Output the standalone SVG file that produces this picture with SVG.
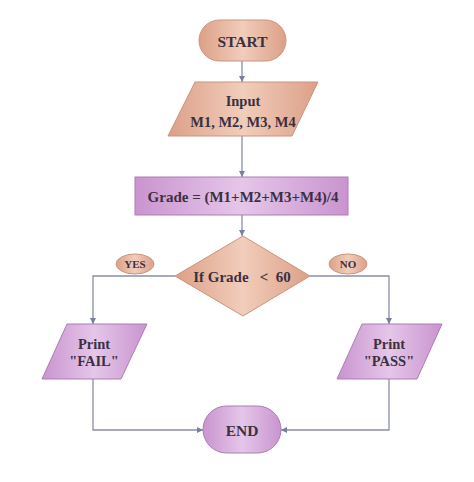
<svg xmlns="http://www.w3.org/2000/svg" width="474" height="482" viewBox="0 0 474 482">
<defs>
<linearGradient id="sal" x1="0" y1="0" x2="1" y2="0">
<stop offset="0" stop-color="#dca087"/>
<stop offset="0.5" stop-color="#f1cdbb"/>
<stop offset="1" stop-color="#dca087"/>
</linearGradient>
<linearGradient id="pur" x1="0" y1="0" x2="1" y2="0">
<stop offset="0" stop-color="#c994cf"/>
<stop offset="0.5" stop-color="#e5c6e9"/>
<stop offset="1" stop-color="#c994cf"/>
</linearGradient>
<marker id="arr" viewBox="0 0 10 10" refX="10" refY="5" markerWidth="6" markerHeight="6" orient="auto" markerUnits="userSpaceOnUse">
<path d="M0,0 L10,5 L0,10 z" fill="#7a7f9c"/>
</marker>
</defs>
<style>
.s{fill:url(#sal);stroke:#c8957f;stroke-width:1}
.p{fill:url(#pur);stroke:#a97fb2;stroke-width:1}
.t{font-family:"Liberation Serif","DejaVu Serif",serif;font-weight:bold;fill:#3b3040;text-anchor:middle}
.c{fill:none;stroke:#8a8ea6;stroke-width:1.3}
</style>
<rect width="474" height="482" fill="#ffffff"/>
<g id="connectors">
<path class="c" d="M242,61 V82" marker-end="url(#arr)"/>
<path class="c" d="M242,136 V177" marker-end="url(#arr)"/>
<path class="c" d="M242,215 V236" marker-end="url(#arr)"/>
<path class="c" d="M175,276 H93 V324" marker-end="url(#arr)"/>
<path class="c" d="M310,276 H389 V324" marker-end="url(#arr)"/>
<path class="c" d="M93,379 V430 H203" marker-end="url(#arr)"/>
<path class="c" d="M389,379 V430 H281" marker-end="url(#arr)"/>
</g>
<g id="start">
<rect class="s" x="199" y="20" width="87" height="41" rx="20.5"/>
<text class="t" x="242.5" y="46.5" font-size="15.5">START</text>
</g>
<g id="input">
<polygon class="s" points="195,82 318,82 292,136 168,136"/>
<text class="t" x="243" y="106" font-size="14.5">Input</text>
<text class="t" x="243" y="127" font-size="14.5">M1, M2, M3, M4</text>
</g>
<g id="grade">
<rect class="p" x="135" y="177" width="213" height="38"/>
<text class="t" x="243" y="201.5" font-size="15">Grade = (M1+M2+M3+M4)/4</text>
</g>
<g id="decision">
<polygon class="s" points="243,236 310,276 243,316 175,276"/>
<text class="t" x="242" y="282" font-size="15">If Grade&#160;&#160; &lt;&#160; 60</text>
</g>
<g id="yes">
<ellipse class="s" cx="135" cy="264" rx="19" ry="10"/>
<text class="t" x="135" y="268" font-size="11">YES</text>
</g>
<g id="no">
<ellipse class="s" cx="348" cy="264" rx="19" ry="10"/>
<text class="t" x="348" y="268" font-size="11">NO</text>
</g>
<g id="fail">
<polygon class="p" points="67,324 147,324 121,379 42,379"/>
<text class="t" x="94" y="349" font-size="14.5">Print</text>
<text class="t" x="94" y="366" font-size="14.5">"FAIL"</text>
</g>
<g id="pass">
<polygon class="p" points="362,324 442,324 417,379 337,379"/>
<text class="t" x="389" y="349" font-size="14.5">Print</text>
<text class="t" x="389" y="366" font-size="14.5">"PASS"</text>
</g>
<g id="end">
<rect class="p" x="203" y="406" width="78" height="47" rx="23.5"/>
<text class="t" x="242" y="435.5" font-size="15.5">END</text>
</g>
</svg>
